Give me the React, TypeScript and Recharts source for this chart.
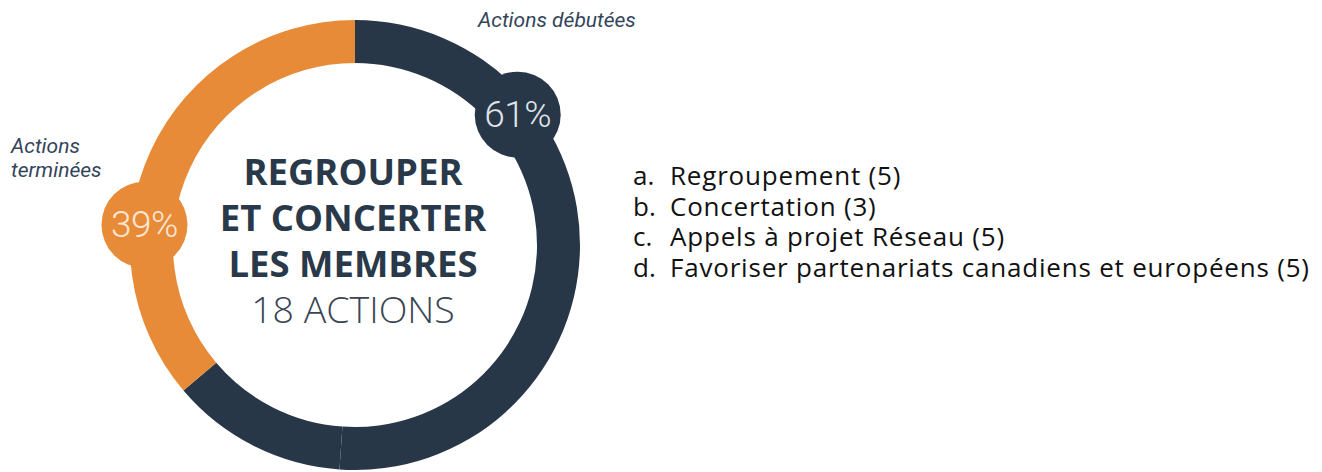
import { PieChart, Pie, Cell } from "recharts";

// ── Data ──────────────────────────────────────────────────────────────────────

// ring slices, read as share of the full circle (clockwise from 12 o'clock)
const sliceNames = ["Actions débutées", "Actions débutées (suite)", "Actions terminées"];
const sliceValues = [51.1, 12.7, 36.2];
const balloonLabels = ["61%", null, "39%"];

const titleLines = ["REGROUPER", "ET CONCERTER", "LES MEMBRES"];
const subtitle = "18 ACTIONS";

const listLetters = ["a.", "b.", "c.", "d."];
const listItems = [
  "Regroupement (5)",
  "Concertation (3)",
  "Appels à projet Réseau (5)",
  "Favoriser partenariats canadiens et européens (5)",
];

// ── Styles ────────────────────────────────────────────────────────────────────

const NAVY = "#283748";
const ORANGE = "#e88b38";
const sliceColors = [NAVY, NAVY, ORANGE];
const balloonText = ["#dfe3e8", null, "#fce6d2"];
// where each balloon sits on the ring (recharts degrees, ccw from 3 o'clock)
const balloonAngle = [38.7, null, 174.5];

const RADIAN = Math.PI / 180;

function renderBalloon(props: any) {
  const { cx, cy, innerRadius, outerRadius, index } = props;
  const label = balloonLabels[index];
  if (!label) return null;
  const r = (innerRadius + outerRadius) / 2 + (index === 2 ? 8 : 5);
  const a = balloonAngle[index] as number;
  const x = cx + r * Math.cos(a * RADIAN);
  const y = cy - r * Math.sin(a * RADIAN);
  return (
    <g key={`balloon-${index}`}>
      <circle cx={x} cy={y} r={43} fill={sliceColors[index]} />
      <text
        x={x}
        y={y}
        textAnchor="middle"
        dominantBaseline="central"
        fontFamily="Roboto, sans-serif"
        fontWeight={300}
        fontSize={37}
        letterSpacing={-0.5}
        fill={balloonText[index] as string}
      >
        {label}
      </text>
    </g>
  );
}

export default function App() {
  const data = sliceNames.map((name, i) => ({ name, value: sliceValues[i] }));

  return (
    <div style={{ position: "absolute", left: 0, top: 0, width: 1322, height: 472, background: "#fff" }}>
      <PieChart width={1322} height={472} margin={{ top: 0, right: 0, bottom: 0, left: 0 }}>
        <Pie
          data={data}
          dataKey="value"
          nameKey="name"
          cx={355}
          cy={245}
          innerRadius={182}
          outerRadius={225}
          startAngle={90}
          endAngle={-270}
          stroke="none"
          label={renderBalloon}
          labelLine={false}
          isAnimationActive={false}
        >
          {data.map((d, i) => (
            <Cell key={d.name} fill={sliceColors[i]} />
          ))}
        </Pie>
      </PieChart>

      <svg
        width={1322}
        height={472}
        style={{ position: "absolute", left: 0, top: 0, pointerEvents: "none" }}
      >
        {/* slice captions */}
        <text x={478} y={27} fontFamily="Roboto, sans-serif" fontStyle="italic" fontSize={21} fill="#34445a">
          Actions débutées
        </text>
        <text fontFamily="Roboto, sans-serif" fontStyle="italic" fontSize={21} fill="#34445a">
          <tspan x={11} y={153}>Actions</tspan>
          <tspan x={11} y={177}>terminées</tspan>
        </text>

        {/* centre title */}
        {titleLines.map((line, i) => (
          <text
            key={line}
            x={353}
            y={185 + i * 46}
            textAnchor="middle"
            fontFamily="'Open Sans', sans-serif"
            fontWeight={700}
            fontSize={36.5}
            fill="#2a394a"
          >
            {line}
          </text>
        ))}
        <text
          x={353}
          y={323}
          textAnchor="middle"
          fontFamily="'Open Sans', sans-serif"
          fontWeight={300}
          fontSize={37.5}
          fill="#3a4654"
        >
          {subtitle}
        </text>

        {/* list on the right */}
        {listItems.map((item, i) => (
          <g key={item} fontFamily="'Open Sans', sans-serif" fontSize={26} fill="#111">
            <text x={633} y={185 + i * 30.7}>{listLetters[i]}</text>
            <text x={670} y={185 + i * 30.7} letterSpacing={0.8}>{item}</text>
          </g>
        ))}
      </svg>
    </div>
  );
}
